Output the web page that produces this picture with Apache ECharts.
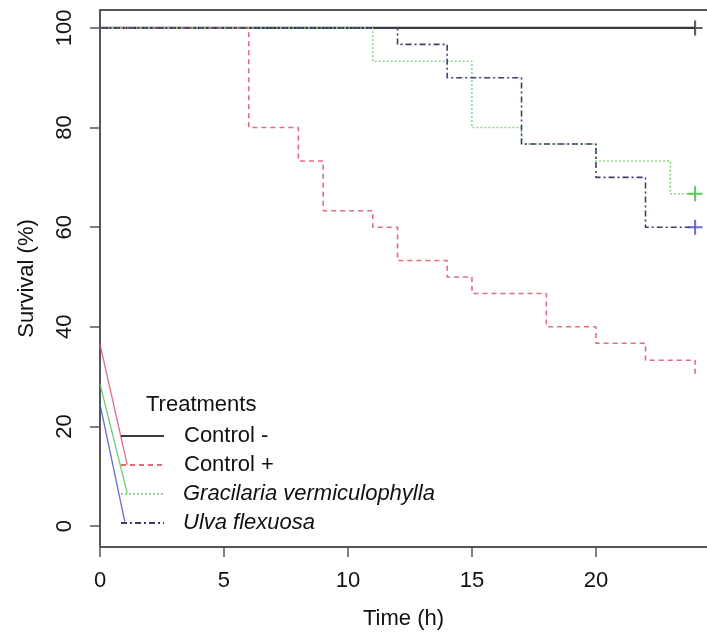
<!DOCTYPE html>
<html>
<head>
<meta charset="utf-8">
<script src="https://cdn.jsdelivr.net/npm/echarts@6/dist/echarts.min.js"></script>
<style>
html,body{margin:0;padding:0;background:#fff;}
#c{width:707px;height:635px;}
</style>
</head>
<body>
<div id="c"></div>
<script>
// ---- data (Kaplan-Meier survival, % vs hours) ----
const seriesNames = ['Control -', 'Control +', 'Gracilaria vermiculophylla', 'Ulva flexuosa'];

const ctrlNegTime = [0, 24];
const ctrlNegSurv = [100, 100];

const ctrlPosTime = [0, 6, 8, 9, 11, 12, 14, 15, 18, 20, 22, 24];
const ctrlPosSurv = [100, 80, 73.3, 63.3, 60, 53.3, 50, 46.7, 40, 36.7, 33.3, 30];

const gracTime = [0, 11, 15, 17, 20, 23, 24];
const gracSurv = [100, 93.3, 80, 76.7, 73.3, 66.7, 66.7];

const ulvaTime = [0, 12, 14, 17, 20, 22, 24];
const ulvaSurv = [100, 96.7, 90, 76.7, 70, 60, 60];

// censored observations (+ marks)
const ctrlNegCensor = [[24, 100]];
const gracCensor = [[24, 66.7]];
const ulvaCensor = [[24, 60]];

const xTicks = [0, 5, 10, 15, 20];
const yTicks = [0, 20, 40, 60, 80, 100];

// legend leader strokes (from y axis to legend keys), in data units
const leaderRed = [[0, 36.5], [1.1, 12.3]];
const leaderGreen = [[0, 28.5], [1.1, 6.6]];
const leaderBlue = [[0, 24.5], [1.0, 0.9]];

// ---- styles ----
const FONT = 'Liberation Sans, Arial, Helvetica, sans-serif';
const colNeg = '#3a3a3a';
const colPos = '#e36c7c';
const colGrac = '#8dd48d';
const colUlva = '#3d3d6e';
const axisCol = '#555';
const plusPath = 'path://M4.3,0h1.4v10h-1.4z M0,4.3h10v1.4h-10z';

function pairs(t, s) { return t.map((x, i) => [x, s[i]]); }

const chart = echarts.init(document.getElementById('c'), null, {renderer: 'canvas'});

const stepSeries = (name, t, s, color, type, width) => ({
  name: name,
  type: 'line',
  step: 'end',
  data: pairs(t, s),
  symbol: 'none',
  showSymbol: false,
  silent: true,
  lineStyle: {color: color, width: width, type: type},
  itemStyle: {color: color},
  z: 3
});

const censorSeries = (data, color) => ({
  type: 'scatter',
  data: data,
  symbol: plusPath,
  symbolSize: 15,
  silent: true,
  itemStyle: {color: color},
  z: 5
});

const leaderSeries = (data, color) => ({
  type: 'line',
  data: data,
  symbol: 'none',
  silent: true,
  lineStyle: {color: color, width: 1.3, opacity: 0.85},
  z: 2
});

const option = {
  animation: false,
  backgroundColor: '#fff',
  textStyle: {fontFamily: FONT},
  title: {
    text: 'Treatments',
    left: 141,
    top: 389,
    textStyle: {fontFamily: FONT, fontSize: 22, fontWeight: 'normal', color: '#111'}
  },
  legend: {
    orient: 'vertical',
    left: 115,
    top: 420,
    itemWidth: 43,
    itemHeight: 14,
    itemGap: 7,
    selectedMode: false,
    data: seriesNames,
    itemStyle: {opacity: 0},
    formatter: function (name) {
      return (name === seriesNames[2] || name === seriesNames[3]) ? '{i|' + name + '}' : '{n|' + name + '}';
    },
    textStyle: {
      fontFamily: FONT,
      fontSize: 22,
      color: '#111',
      rich: {
        n: {fontFamily: FONT, fontSize: 22, lineHeight: 22, color: '#111', padding: [0, 0, 0, 15]},
        i: {fontFamily: FONT, fontSize: 22, lineHeight: 22, fontStyle: 'italic', color: '#111', padding: [0, 0, 0, 14]}
      }
    }
  },
  grid: {
    left: 100,
    top: 10,
    right: 0,
    bottom: 88,
    show: false,
    containLabel: false
  },
  xAxis: [{
    type: 'value',
    min: 0,
    max: 24.48,
    name: 'Time (h)',
    nameLocation: 'middle',
    nameGap: 61,
    nameTextStyle: {fontFamily: FONT, fontSize: 22, color: '#111'},
    axisLine: {show: true, onZero: false, lineStyle: {color: axisCol, width: 2}},
    axisTick: {show: true, length: 10, customValues: xTicks, lineStyle: {color: axisCol, width: 1.5}},
    axisLabel: {customValues: xTicks, fontFamily: FONT, fontSize: 22, color: '#111', margin: 23},
    splitLine: {show: false}
  }, {
    type: 'value',
    position: 'top',
    min: 0,
    max: 24.48,
    axisLine: {show: true, onZero: false, lineStyle: {color: axisCol, width: 2}},
    axisTick: {show: false},
    axisLabel: {show: false},
    splitLine: {show: false}
  }],
  yAxis: {
    type: 'value',
    min: -4.2,
    max: 103.6,
    name: 'Survival (%)',
    nameLocation: 'middle',
    nameGap: 62,
    nameRotate: 90,
    nameTextStyle: {fontFamily: FONT, fontSize: 22, color: '#111'},
    axisLine: {show: true, onZero: false, lineStyle: {color: axisCol, width: 2}},
    axisTick: {show: true, length: 10, customValues: yTicks, lineStyle: {color: axisCol, width: 1.5}},
    axisLabel: {customValues: yTicks, rotate: 90, fontFamily: FONT, fontSize: 22, color: '#111', margin: 24},
    splitLine: {show: false}
  },
  series: [
    stepSeries(seriesNames[0], ctrlNegTime, ctrlNegSurv, colNeg, 'solid', 2.2),
    stepSeries(seriesNames[1], ctrlPosTime, ctrlPosSurv, colPos, [5, 4], 1.6),
    stepSeries(seriesNames[2], gracTime, gracSurv, colGrac, [2, 2], 1.6),
    stepSeries(seriesNames[3], ulvaTime, ulvaSurv, colUlva, [6, 3, 2, 3], 1.6),
    censorSeries(ctrlNegCensor, '#333'),
    censorSeries(gracCensor, '#3fb83f'),
    censorSeries(ulvaCensor, '#4b4bcc'),
    leaderSeries(leaderRed, '#d9586a'),
    leaderSeries(leaderGreen, '#5cc05c'),
    leaderSeries(leaderBlue, '#4a55c0')
  ]
};

chart.setOption(option);
</script>
</body>
</html>
